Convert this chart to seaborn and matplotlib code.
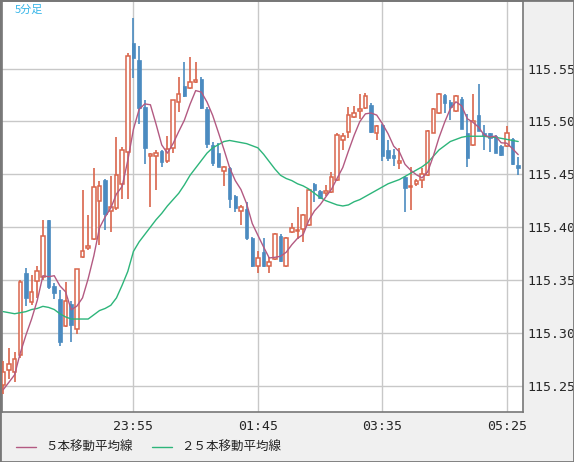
import numpy as np
import pandas as pd
import matplotlib
matplotlib.use("Agg")
import matplotlib.pyplot as plt
import seaborn as sns

sns.set_style("white")
plt.rcParams['font.family'] = ['Noto Sans CJK JP', 'DejaVu Sans']

# 5-minute bars 22:00 .. 05:35
times = pd.date_range("2000-01-01 22:00", periods=92, freq="5min").strftime("%H:%M").tolist()
opens = [115.251, .265, .263, .279, .357, .329, .349, .353, .407, .344,
         .332, .306, .327, .304, .372, .380, .389, .425, .445, .415,
         .418, .441, .471, .574, .558, .514, .467, .467, .472, .463,
         .475, .518, .534, .532, .537, .540, .512, .478, .470, .453,
         .456, .429, .415, .417, .390, .363, .376, .363, .370, .392,
         .363, .395, .396, .398, .402, .441, .434, .432, .433, .445,
         .482, .490, .504, .510, .513, .516, .489, .497, .473, .468,
         .461, .447, .438, .441, .445, .449, .489, .508, .525, .518,
         .510, .521, .489, .478, .506, .489, .489, .486, .477, .477,
         .483, .459]
highs = [115.273, .286, .282, .350, .361, .355, .363, .407, .407, .347,
         .340, .348, .330, .360, .435, .411, .456, .444, .446, .448,
         .485, .476, .565, .598, .571, .520, .470, .473, .473, .486,
         .520, .542, .556, .561, .556, .542, .514, .481, .480, .458,
         .457, .430, .421, .424, .391, .377, .390, .372, .394, .393,
         .391, .404, .419, .412, .436, .442, .435, .440, .452, .489,
         .489, .514, .515, .526, .527, .517, .497, .498, .482, .474,
         .475, .448, .457, .446, .456, .492, .513, .527, .526, .520,
         .525, .523, .507, .526, .535, .497, .489, .487, .478, .496,
         .484, .466]
lows = [115.242, .256, .253, .276, .325, .326, .333, .350, .341, .332,
        .287, .305, .291, .299, .371, .378, .388, .383, .397, .395,
        .416, .427, .427, .541, .498, .460, .419, .435, .457, .461,
        .470, .509, .523, .531, .536, .512, .475, .458, .457, .439,
        .418, .414, .402, .388, .362, .357, .362, .357, .369, .367,
        .362, .394, .389, .386, .401, .424, .427, .429, .432, .444,
        .473, .484, .503, .502, .512, .489, .482, .463, .463, .458,
        .455, .414, .416, .439, .437, .448, .489, .507, .508, .501,
        .509, .493, .457, .477, .492, .473, .471, .470, .467, .476,
        .459, .449]
closes = [115.263, .270, .275, .348, .333, .339, .358, .392, .343, .338,
          .291, .330, .307, .360, .377, .382, .438, .439, .412, .419,
          .449, .473, .562, .560, .513, .475, .469, .470, .462, .474,
          .520, .526, .524, .537, .539, .513, .479, .461, .457, .457,
          .427, .418, .419, .390, .363, .371, .363, .367, .393, .368,
          .390, .399, .397, .411, .435, .435, .428, .434, .447, .487,
          .486, .506, .508, .512, .524, .490, .496, .467, .465, .465,
          .463, .437, .439, .444, .450, .491, .512, .526, .517, .514,
          .524, .493, .465, .500, .491, .486, .484, .470, .468, .489,
          .460, .456]
prior_closes = [115.235, 115.240, 115.245, 115.248]
ma25 = [115.320, .319, .318, .319, .320, .322, .323, .325, .324, .322,
        .318, .315, .313, .313, .313, .313, .317, .321, .323, .326,
        .333, .345, .358, .377, .386, .393, .400, .407, .413, .420,
        .426, .432, .440, .449, .456, .463, .470, .475, .478, .481,
        .482, .481, .480, .479, .477, .475, .469, .462, .455, .449,
        .446, .444, .441, .439, .436, .432, .428, .425, .423, .421,
        .420, .421, .424, .426, .429, .432, .435, .438, .441, .443,
        .445, .448, .451, .454, .457, .461, .467, .473, .477, .481,
        .483, .485, .486, .486, .486, .486, .485, .485, .484, .483,
        .482, .481]
tick_times = ["23:55", "01:45", "03:35", "05:25"]


def fix(vals):
    # values after the first are written as decimals of 115
    return np.array([vals[0]] + [115 + v for v in vals[1:]])


o, h, l, c = fix(opens), fix(highs), fix(lows), fix(closes)
m25 = fix(ma25)
idx = np.arange(len(times))
ma5 = pd.Series(np.r_[prior_closes, c]).rolling(5).mean().to_numpy()[4:]
df = pd.DataFrame({"i": idx, "ma5": ma5, "ma25": m25})

RED = "#d9654b"
BLUE = "#4b8bc0"
MA5_C = "#b35a82"
MA25_C = "#2db57a"

fig = plt.figure(figsize=(5.74, 4.62), dpi=100, facecolor="#f0f0f0")
ax = fig.add_axes([2 / 574, 50 / 462, 521 / 574, 411 / 462])
ax.set_facecolor("white")

up = c >= o
# wicks
ax.vlines(idx[up], l[up], h[up], color=RED, lw=1.2, zorder=3)
ax.vlines(idx[~up], l[~up], h[~up], color=BLUE, lw=1.2, zorder=3)
# bodies
bw = 0.62
ax.bar(idx[up], np.maximum(c[up] - o[up], 0.0006), bottom=o[up], width=bw,
       color="white", edgecolor=RED, lw=1.1, zorder=4)
ax.bar(idx[~up], np.maximum(o[~up] - c[~up], 0.0006), bottom=c[~up], width=bw,
       color=BLUE, edgecolor=BLUE, lw=0.5, zorder=4)

sns.lineplot(data=df, x="i", y="ma25", ax=ax, color=MA25_C, lw=1, zorder=5)
sns.lineplot(data=df, x="i", y="ma5", ax=ax, color=MA5_C, lw=1, zorder=5)

ax.set_xlim(-0.23, 91.85)
ax.set_ylim(115.225, 115.614)
ax.set_xticks([times.index(t) for t in tick_times])
ax.set_xticklabels(tick_times, family="DejaVu Sans Mono", fontsize=9.5)
yt = [115.25, 115.30, 115.35, 115.40, 115.45, 115.50, 115.55]
ax.set_yticks(yt)
ax.set_yticklabels([f"{v:.2f}" for v in yt], family="DejaVu Sans Mono", fontsize=9.5)
ax.yaxis.tick_right()
ax.tick_params(axis="y", length=0, pad=3)
ax.tick_params(axis="x", length=0, pad=6)
ax.set_xlabel("")
ax.set_ylabel("")
ax.grid(True, color="#c8c8c8", lw=1)
ax.set_axisbelow(True)
for s in ax.spines.values():
    s.set_color("#777777")
    s.set_linewidth(1.2)

ax.text(0.025, 0.992, "5分足", transform=ax.transAxes, ha="left", va="top",
        color="#35b5e8", fontsize=8)

# legend row at the bottom
ly = 1 - 447 / 462
fig.add_artist(plt.Line2D([16 / 574, 36 / 574], [ly, ly], transform=fig.transFigure,
                          color=MA5_C, lw=1))
fig.text(45 / 574, ly, "５本移動平均線", fontsize=9, va="center", color="#222222")
fig.add_artist(plt.Line2D([152 / 574, 172 / 574], [ly, ly], transform=fig.transFigure,
                          color=MA25_C, lw=1))
fig.text(181 / 574, ly, "２５本移動平均線", fontsize=9, va="center", color="#222222")

# outer frame
fig.add_artist(plt.Rectangle((0, 0), 1, 1, transform=fig.transFigure, fill=False,
                             edgecolor="#777777", lw=2))

fig.savefig("out.png", dpi=100, facecolor=fig.get_facecolor())
